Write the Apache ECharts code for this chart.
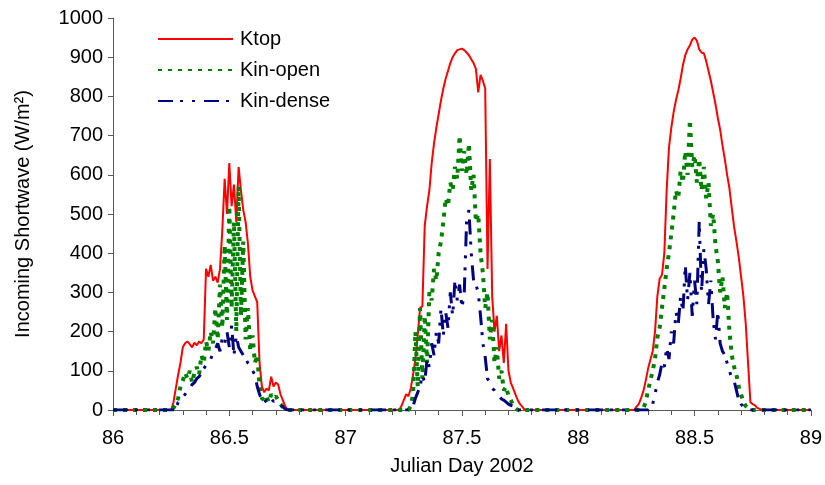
<!DOCTYPE html>
<html>
<head>
<meta charset="utf-8">
<script src="https://cdn.jsdelivr.net/npm/echarts@6/dist/echarts.min.js"></script>
<style>
html, body { margin: 0; padding: 0; background: #fff; }
#chart { width: 825px; height: 485px; }
</style>
</head>
<body>
<div id="chart"></div>
<script>
// records every 0.01 day, one list per day-time segment
var step = 0.01;
var dayStart = 86, dayEnd = 89;
var seriesNames = ["Ktop", "Kin-open", "Kin-dense"];

// Ktop (red)
var ktopStarts = [86.25, 87.23, 88.24];
var ktop86 = [0,20,55,90,120,160,170,175,168,160, 172,165,175,170,180,360,340,370,330,340,
  325,360,460,590,500,630,520,575,480,620, 560,510,480,425,340,305,290,275,120,60,
  45,55,50,85,60,70,65,40,25,10, 0];
var ktop87 = [0,10,25,40,35,55,90,130,190,260, 265,470,520,560,630,680,720,755,790,820,
  845,865,885,900,910,918,920,922,918,912, 905,895,885,870,810,855,840,820,360,640,
  290,200,240,150,190,120,220,100,70,55, 40,25,15,8,0];
var ktop88 = [0,8,15,30,48,75,105,128,150,200, 290,335,345,400,560,670,720,760,790,815,
  845,880,905,920,930,945,950,942,920,912, 910,890,865,840,810,780,745,715,675,640,
  600,565,515,467,430,390,340,290,220,120, 20,15,12,5,3,0];

// Kin-open (green)
var openStarts = [86.25, 87.27, 88.27];
var open86 = [0,5,15,30,60,75,95,80,100,70, 95,110,90,140,120,175,150,200,170,260,
  180,320,210,420,230,520,260,480,200,570, 240,430,180,260,150,190,120,140,60,30,
  25,35,20,40,30,35,25,15,8,3, 0];
var open87 = [0,10,40,200,60,260,80,240,120,300, 280,360,330,400,430,480,540,520,580,560,
  620,590,700,610,660,600,680,560,600,480, 500,400,350,260,300,180,230,120,160,80,
  100,50,60,35,25,12,5,0];
var open88 = [0,5,20,50,75,100,130,185,210,260, 310,360,400,450,500,560,540,610,580,660,
  600,740,620,650,580,640,560,620,540,580, 470,500,420,380,300,340,260,300,200,140,
  110,90,60,40,20,10,5,0];

// Kin-dense (navy)
var denseStarts = [86.27, 87.28, 88.30];
var dense86 = [0,20,25,35,40,50,55,65,70,80, 85,95,105,115,125,130,145,155,170,150,
  185,170,200,160,215,140,190,160,150,140, 130,120,115,100,90,60,40,25,20,25,
  20,30,22,25,18,12,8,3,0];
var dense87 = [0,10,30,45,60,90,70,130,110,170, 140,200,170,260,190,250,210,300,240,330,
  280,320,260,300,480,510,400,330,320,300, 240,170,135,80,70,55,50,40,35,28,
  25,20,15,12,10,5,0];
var dense88 = [0,5,15,40,70,90,120,110,160,130, 200,170,250,220,290,250,370,280,350,240,
  330,270,480,300,410,360,270,330,230,180, 250,170,150,140,120,100,80,75,50,25,
  15,8,3,0];

function buildPoints(starts, days) {
  var pts = [[dayStart, 0]];
  for (var d = 0; d < days.length; d++) {
    for (var i = 0; i < days[d].length; i++) {
      var x = Math.round((starts[d] + i * step) * 1000) / 1000;
      pts.push([x, days[d][i]]);
    }
  }
  pts.push([dayEnd, 0]);
  return pts;
}

var font = "Liberation Sans";
var axisColor = "#595959";

var chart = echarts.init(document.getElementById("chart"));
var option = {
  animation: false,
  backgroundColor: "#fff",
  grid: { left: 113, right: 13, top: 18, bottom: 75 },
  legend: {
    orient: "vertical",
    left: 157,
    top: 29,
    padding: 0,
    itemWidth: 75,
    itemHeight: 14,
    itemGap: 11,
    data: seriesNames,
    itemStyle: { opacity: 0 },
    textStyle: { fontFamily: font, fontSize: 20, color: "#000", padding: [0, 0, 0, 2] }
  },
  xAxis: {
    type: "value",
    min: 86,
    max: 89,
    interval: 0.5,
    name: "Julian Day 2002",
    nameLocation: "middle",
    nameGap: 46,
    nameTextStyle: { fontFamily: font, fontSize: 20, color: "#000" },
    axisLine: { lineStyle: { color: axisColor, width: 1 } },
    axisTick: { length: 6, lineStyle: { color: axisColor } },
    minorTick: { show: true, splitNumber: 5, length: 5, lineStyle: { color: axisColor } },
    axisLabel: { fontFamily: font, fontSize: 20, color: "#000", margin: 18 },
    splitLine: { show: false }
  },
  yAxis: {
    type: "value",
    min: 0,
    max: 1000,
    interval: 100,
    name: "Incoming Shortwave (W/m²)",
    nameLocation: "middle",
    nameRotate: 90,
    nameGap: 80,
    nameTextStyle: { fontFamily: font, fontSize: 20, color: "#000" },
    axisLine: { show: true, lineStyle: { color: axisColor, width: 1 } },
    axisTick: { show: true, length: 5, lineStyle: { color: axisColor } },
    axisLabel: {
      fontFamily: font, fontSize: 20, color: "#000", margin: 10,
      formatter: function (v) { return String(v); }
    },
    splitLine: { show: false }
  },
  series: [
    {
      name: "Ktop",
      type: "line",
      symbol: "none",
      color: "#ff0000",
      lineStyle: { color: "#ff0000", width: 2 },
      data: buildPoints(ktopStarts, [ktop86, ktop87, ktop88])
    },
    {
      name: "Kin-open",
      type: "line",
      symbol: "none",
      color: "#008000",
      lineStyle: { color: "#008000", width: 4, type: [4, 6] },
      data: buildPoints(openStarts, [open86, open87, open88])
    },
    {
      name: "Kin-dense",
      type: "line",
      symbol: "none",
      color: "#000080",
      lineStyle: { color: "#000080", width: 3, type: [15, 7, 3, 9, 3, 9] },
      data: buildPoints(denseStarts, [dense86, dense87, dense88])
    }
  ]
};
chart.setOption(option);
</script>
</body>
</html>
